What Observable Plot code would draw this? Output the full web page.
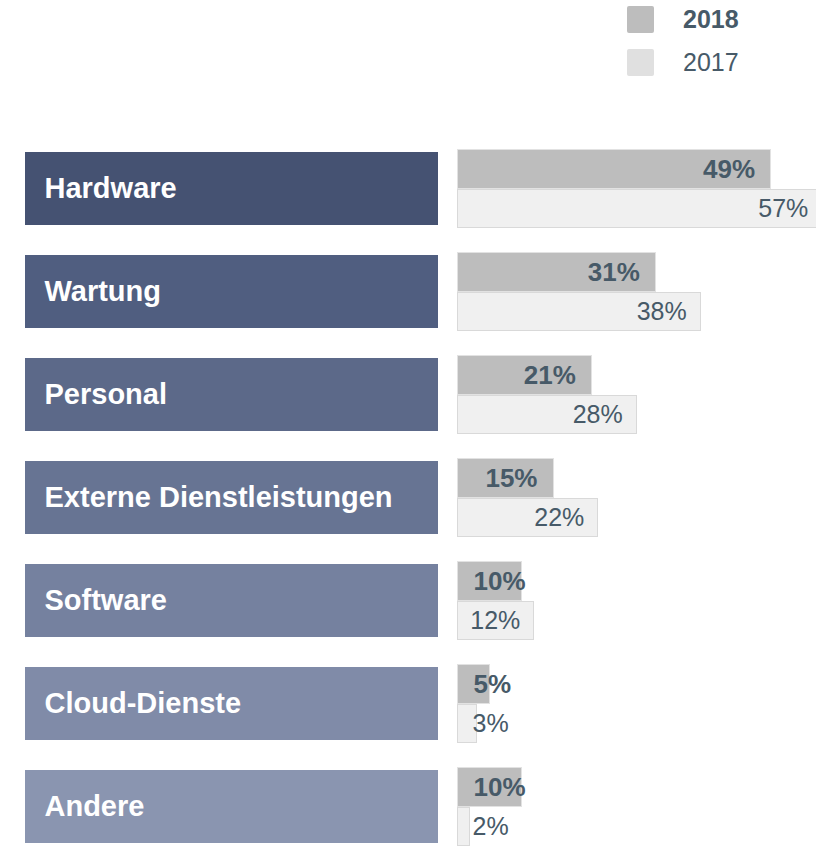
<!DOCTYPE html>
<html>
<head>
<meta charset="utf-8">
<script src="https://cdn.jsdelivr.net/npm/d3@7"></script>
<script src="https://cdn.jsdelivr.net/npm/@observablehq/plot@0.6"></script>
<style>
  html, body { margin: 0; padding: 0; background: #fff; }
  body { width: 816px; height: 848px; overflow: hidden; font-family: "Liberation Sans", Arial, sans-serif; }
  #wrap { position: relative; width: 816px; height: 848px; }
  #left, #right { position: absolute; top: 0; }
  #left { left: 0; }
  #right { left: 457px; }
  #legend { position: absolute; left: 627px; top: 6px; color: #475a68; font-size: 25px; }
  .item { display: flex; align-items: center; height: 27px; margin-bottom: 16px; }
  .sw { width: 27px; height: 27px; border-radius: 2px; margin-right: 29px; }
</style>
</head>
<body>
<div id="wrap">
  <div id="left"></div>
  <div id="right"></div>
  <div id="legend"></div>
</div>
<script>
const categories = ["Hardware", "Wartung", "Personal", "Externe Dienstleistungen", "Software", "Cloud-Dienste", "Andere"];
const values2018 = [49, 31, 21, 15, 10, 5, 10];
const values2017 = [57, 38, 28, 22, 12, 3, 2];
const boxColors = ["#455272", "#505e80", "#5c6989", "#677493", "#75819f", "#808ba8", "#8a95b0"];
const years = ["2018", "2017"];
const yearColors = ["#bdbdbd", "#e0e0e0"];

const textColor = "#475a68";
const font = "'Liberation Sans', Arial, sans-serif";

const rows = [];
categories.forEach((c, i) => {
  rows.push({category: c, year: "2018", value: values2018[i]});
  rows.push({category: c, year: "2017", value: values2017[i]});
});
const r18 = rows.filter(d => d.year === "2018");
const r17 = rows.filter(d => d.year === "2017");

const yScale = {type: "band", domain: categories, range: [134.8, 860.06], padding: 0, axis: null};
const small = 10;

const left = Plot.plot({
  width: 457, height: 848,
  margin: 0,
  style: {fontFamily: font, background: "transparent", overflow: "hidden"},
  x: {domain: [0, 1], range: [25, 438], axis: null},
  y: yScale,
  color: {type: "identity"},
  marks: [
    Plot.barX(categories, {x1: () => 0, x2: () => 1, y: d => d, fill: (d, i) => boxColors[i], insetTop: 15.4, insetBottom: 15.4, shapeRendering: "crispEdges"}),
    Plot.text(categories, {x: () => 0, y: d => d, text: d => d, dx: 19, textAnchor: "start", fill: "#ffffff", fontWeight: "bold", fontSize: 29})
  ]
});
document.getElementById("left").appendChild(left);

const right = Plot.plot({
  width: 359, height: 848,
  margin: 0,
  style: {fontFamily: font, background: "transparent", overflow: "hidden"},
  x: {domain: [0, 100], range: [0, 640], axis: null},
  y: yScale,
  marks: [
    Plot.barX(r17, {x: "value", y: "category", fill: "#f0f0f0", stroke: "#d9d9d9", strokeWidth: 1, insetTop: 52.4, insetBottom: 12.4, shapeRendering: "crispEdges"}),
    Plot.barX(r18, {x: "value", y: "category", fill: yearColors[0], stroke: "#e2e2e2", strokeWidth: 1, insetTop: 12.4, insetBottom: 51.9, shapeRendering: "crispEdges"}),
    Plot.text(r18.filter(d => d.value > small), {x: "value", y: "category", text: d => d.value + "%", textAnchor: "end", dx: -16, dy: -19.75, fill: textColor, fontWeight: "bold", fontSize: 26}),
    Plot.text(r18.filter(d => d.value <= small), {x: () => 0, y: "category", text: d => d.value + "%", textAnchor: "start", dx: 16, dy: -19.75, fill: textColor, fontWeight: "bold", fontSize: 26}),
    Plot.text(r17.filter(d => d.value > small), {x: "value", y: "category", text: d => d.value + "%", textAnchor: "end", dx: -14, dy: 19.75, fill: textColor, fontSize: 25}),
    Plot.text(r17.filter(d => d.value <= small), {x: () => 0, y: "category", text: d => d.value + "%", textAnchor: "start", dx: 15, dy: 19.75, fill: textColor, fontSize: 25})
  ]
});
document.getElementById("right").appendChild(right);

const legend = document.getElementById("legend");
years.forEach((y, i) => {
  const item = document.createElement("div");
  item.className = "item";
  const sw = document.createElement("div");
  sw.className = "sw";
  sw.style.background = yearColors[i];
  const lab = document.createElement("span");
  lab.textContent = y;
  lab.style.fontWeight = i === 0 ? "bold" : "normal";
  item.appendChild(sw);
  item.appendChild(lab);
  legend.appendChild(item);
});
</script>
</body>
</html>
